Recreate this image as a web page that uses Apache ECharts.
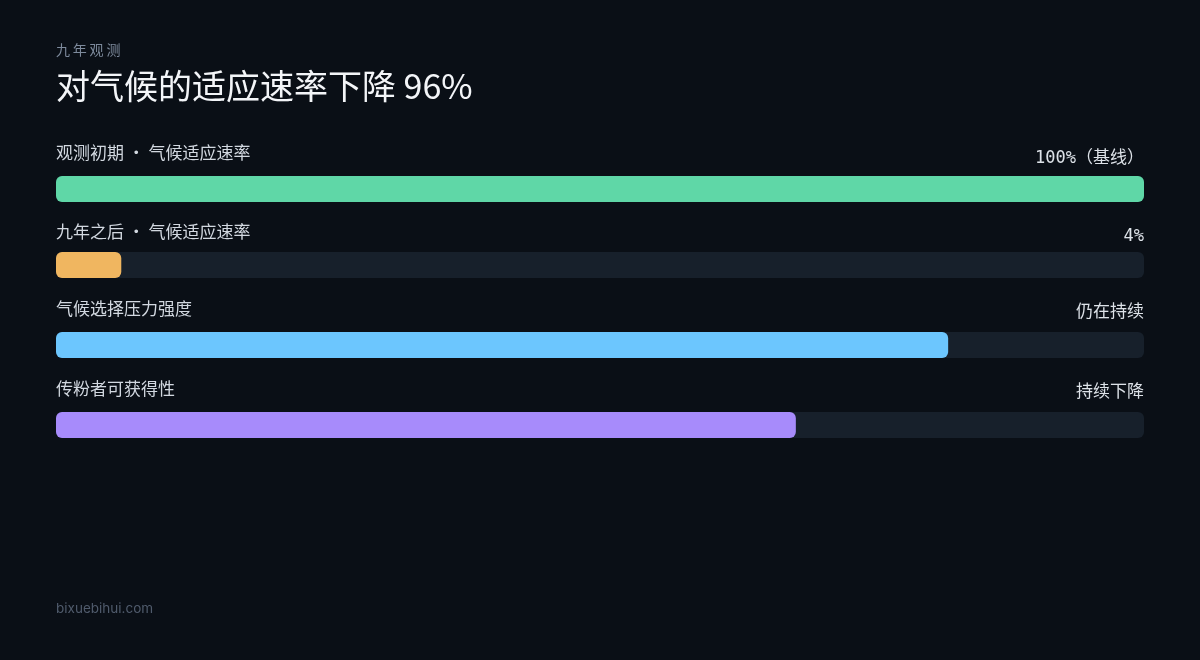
<!DOCTYPE html>
<html>
<head>
<meta charset="utf-8">
<script src="https://cdn.jsdelivr.net/npm/echarts@6/dist/echarts.min.js"></script>
<style>
html,body{margin:0;padding:0;background:#0a0f16;}
#chart{width:1200px;height:660px;}
</style>
</head>
<body>
<div id="chart"></div>
<script>
// ---- data ----
const categories = ['观测初期 · 气候适应速率', '九年之后 · 气候适应速率', '气候选择压力强度', '传粉者可获得性'];
const values = [100, 6, 82, 68];
const valueLabels = ['100%（基线）', '4%', '仍在持续', '持续下降'];
const colors = ['#5fd7a7', '#f0b660', '#6cc6fe', '#a78bfb'];
const subtitle = '九年观测';
const titleText = '对气候的适应速率下降 96%';
const footer = 'bixuebihui.com';

// ---- layout ----
const barTops = [176, 252, 332, 412];
const leftLabelY = [154, 233, 310, 390];
const rightLabelY = [160, 238, 312, 392];
const monoRight = [true, true, false, false];
const LEFT = 56, WIDTH = 1088, BAR_H = 26;

const chart = echarts.init(document.getElementById('chart'));

const grids = [], xAxes = [], yAxes = [], series = [], graphics = [];
categories.forEach((c, i) => {
  grids.push({left: LEFT, width: WIDTH, top: barTops[i], height: BAR_H, containLabel: false});
  xAxes.push({type: 'value', gridIndex: i, min: 0, max: 100, show: false});
  yAxes.push({type: 'category', gridIndex: i, data: [c], show: false});
  series.push({
    type: 'bar', xAxisIndex: i, yAxisIndex: i, data: [values[i]],
    barWidth: BAR_H, silent: true, animation: false,
    showBackground: true,
    backgroundStyle: {color: '#17202b', borderRadius: 6},
    itemStyle: {color: colors[i], borderRadius: 6}
  });
  graphics.push({
    type: 'text', left: LEFT, top: leftLabelY[i] - 10,
    style: {text: c, fill: '#d2d8e0', font: '17px "Noto Sans CJK SC"'}
  });
  graphics.push({
    type: 'text', right: 56, top: rightLabelY[i] - 10,
    style: {text: valueLabels[i], fill: '#dde2e8',
      font: monoRight[i] ? '17px "DejaVu Sans Mono", "Noto Sans CJK SC"' : '17px "Noto Sans CJK SC"'}
  });
});

graphics.push({type: 'text', left: 56, top: 43,
  style: {text: subtitle.split('').join('\u2009'), fill: '#7d8a9c', font: '14px "Noto Sans CJK SC"'}});
graphics.push({type: 'text', left: 56, top: 69,
  style: {text: titleText, fill: '#f3f5f8', font: '34px "Noto Sans CJK SC"'}});
graphics.push({type: 'text', left: 56, top: 602,
  style: {text: footer, fill: '#505b6c', font: '13.5px Inter'}});

chart.setOption({
  backgroundColor: '#0a0f16',
  animation: false,
  grid: grids, xAxis: xAxes, yAxis: yAxes, series: series,
  graphic: graphics
});
</script>
</body>
</html>
